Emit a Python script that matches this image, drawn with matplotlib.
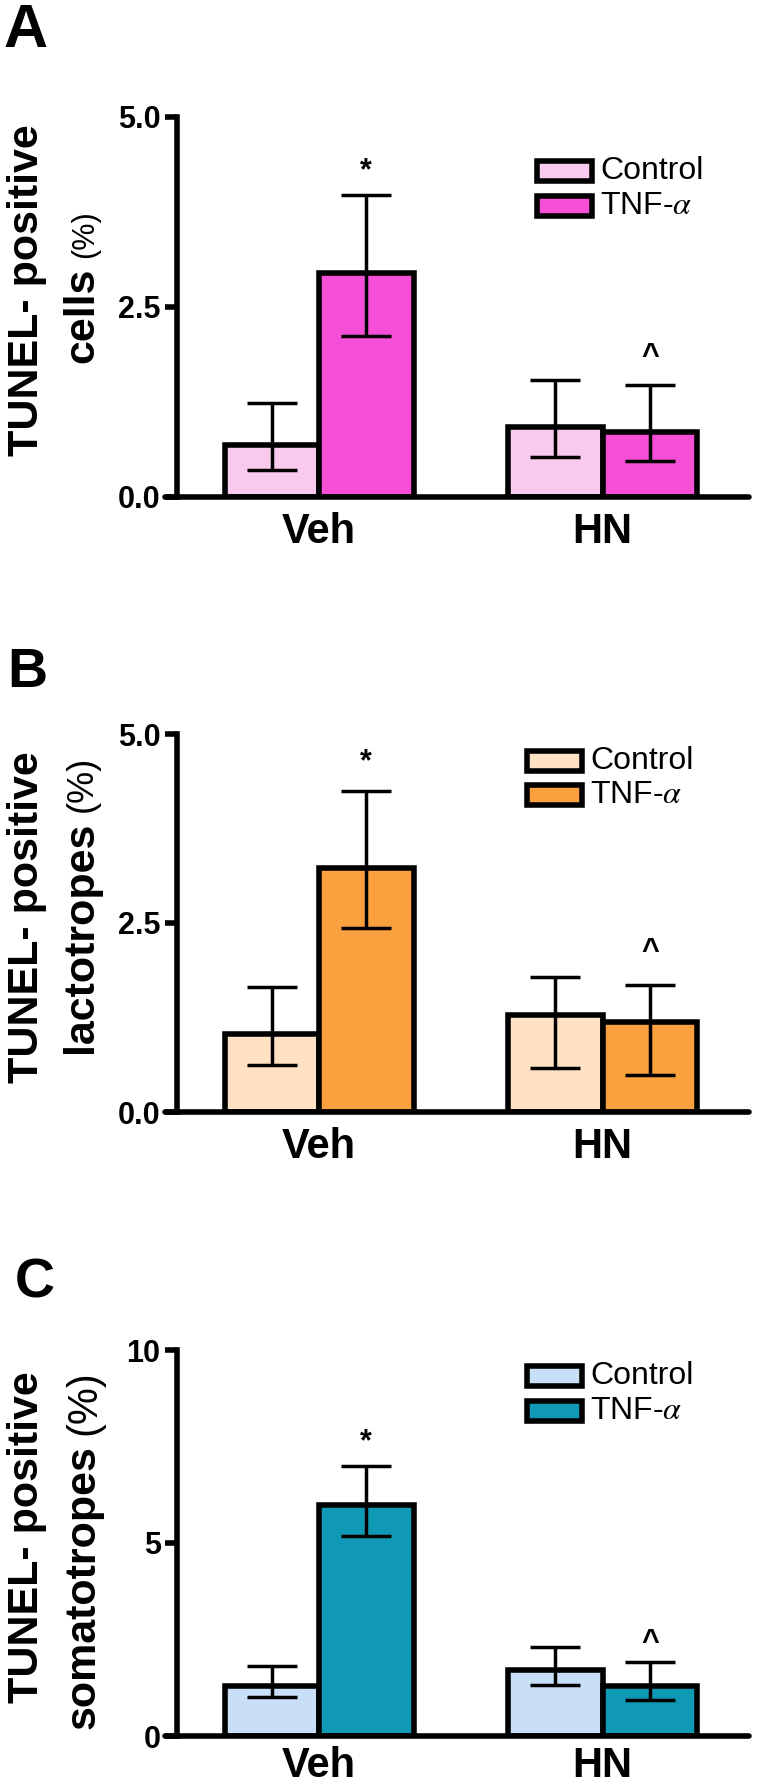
import matplotlib
matplotlib.use("Agg")
import matplotlib.pyplot as plt
import numpy as np
from matplotlib.patches import Rectangle

plt.rcParams['font.family'] = ['Liberation Sans', 'DejaVu Sans']
plt.rcParams['mathtext.fontset'] = 'stix'

# ---- data ----
groups = ['Veh', 'HN']
series = ['Control', r'TNF-$\alpha$']

# A: TUNEL-positive cells (%)
a_ctrl = [0.68, 0.92]
a_ctrl_lo = [0.36, 0.53]
a_ctrl_hi = [1.24, 1.54]
a_tnf = [2.95, 0.86]
a_tnf_lo = [2.12, 0.47]
a_tnf_hi = [3.97, 1.47]
a_sig = ['*', '^']
a_sig_y = [4.28, 1.84]

# B: TUNEL-positive lactotropes (%)
b_ctrl = [1.03, 1.28]
b_ctrl_lo = [0.62, 0.58]
b_ctrl_hi = [1.65, 1.79]
b_tnf = [3.23, 1.19]
b_tnf_lo = [2.44, 0.49]
b_tnf_hi = [4.25, 1.68]
b_sig = ['*', '^']
b_sig_y = [4.62, 2.12]

# C: TUNEL-positive somatotropes (%)
c_ctrl = [1.30, 1.71]
c_ctrl_lo = [1.01, 1.32]
c_ctrl_hi = [1.81, 2.31]
c_tnf = [5.98, 1.30]
c_tnf_lo = [5.18, 0.93]
c_tnf_hi = [7.00, 1.92]
c_sig = ['*', '^']
c_sig_y = [7.62, 2.41]

W, H = 760, 1789
fig = plt.figure(figsize=(W / 100, H / 100), dpi=100)


def fx(px):
    return px / W


def fy(py):
    return 1 - py / H


def draw_panel(top, bottom, ctrl, ctrl_lo, ctrl_hi, tnf, tnf_lo, tnf_hi,
               sig, sig_y, colors, yticks, yticklabels, xpad=11):
    ax = fig.add_axes([fx(165), fy(bottom), fx(584), (bottom - top) / H])
    x = np.array([1.5, 4.5])
    ctrl, tnf = np.array(ctrl), np.array(tnf)
    ax.bar(x - 0.5, ctrl, width=1.0, color=colors[0], edgecolor='black',
           linewidth=4, zorder=2)
    ax.bar(x + 0.5, tnf, width=1.0, color=colors[1], edgecolor='black',
           linewidth=4, zorder=2)
    ax.errorbar(x - 0.5, ctrl, yerr=[ctrl - np.array(ctrl_lo), np.array(ctrl_hi) - ctrl],
                fmt='none', ecolor='black', elinewidth=2.5, capsize=18, capthick=2.5, zorder=3)
    ax.errorbar(x + 0.5, tnf, yerr=[tnf - np.array(tnf_lo), np.array(tnf_hi) - tnf],
                fmt='none', ecolor='black', elinewidth=2.5, capsize=18, capthick=2.5, zorder=3)
    for xi, s, yi in zip(x + 0.5, sig, sig_y):
        ax.text(xi, yi, s, ha='center', va='center', fontsize=22, fontweight='bold')

    ax.set_xlim(-0.13, 6.05)
    ax.set_ylim(yticks[0], yticks[-1])
    for s in ['top', 'right']:
        ax.spines[s].set_visible(False)
    ax.spines['left'].set_position(('data', 0))
    ax.spines['left'].set_linewidth(4)
    ax.spines['bottom'].set_linewidth(4)
    ax.spines['left'].set_capstyle('projecting')
    ax.spines['bottom'].set_capstyle('round')

    ax.set_yticks(yticks)
    ax.set_yticklabels(yticklabels, fontsize=22, fontweight='bold')
    ax.tick_params(axis='y', length=9, width=4, pad=3)
    ax.set_xticks(x)
    ax.set_xticklabels(groups, fontsize=30, fontweight='bold')
    ax.tick_params(axis='x', length=0, pad=xpad)
    ax.patch.set_visible(False)
    return ax


def draw_legend(x0, y_ctrl, y_tnf, colors):
    for yc, c, lab in zip([y_ctrl, y_tnf], colors, series):
        fig.add_artist(Rectangle((fx(x0), fy(yc + 10)), 55 / W, 20 / H,
                                 transform=fig.transFigure, facecolor=c,
                                 edgecolor='black', linewidth=4))
        fig.text(fx(x0 + 63), fy(yc), lab, fontsize=23, va='center', ha='left')


def ylabel(x1, yc1, x2, y_split, word, pct_size):
    fig.text(fx(x1), fy(yc1), 'TUNEL- positive', rotation=90, rotation_mode='anchor',
             ha='center', va='baseline', fontsize=31, fontweight='bold')
    fig.text(fx(x2), fy(y_split + 5), word, rotation=90, rotation_mode='anchor',
             ha='right', va='baseline', fontsize=31, fontweight='bold')
    fig.text(fx(x2), fy(y_split - 5), '(%)', rotation=90, rotation_mode='anchor',
             ha='left', va='baseline', fontsize=pct_size)


# Panel A
draw_panel(117, 497, a_ctrl, a_ctrl_lo, a_ctrl_hi, a_tnf, a_tnf_lo, a_tnf_hi,
           a_sig, a_sig_y, ['#F9C9EE', '#F44FD6'], [0, 2.5, 5.0], ['0.0', '2.5', '5.0'])
draw_legend(537, 171, 206, ['#F9C9EE', '#F44FD6'])
ylabel(38, 290, 93, 263, 'cells', 22)
fig.text(fx(3), fy(47), 'A', fontsize=44, fontweight='bold', ha='left', va='baseline')

# Panel B
draw_panel(734, 1112, b_ctrl, b_ctrl_lo, b_ctrl_hi, b_tnf, b_tnf_lo, b_tnf_hi,
           b_sig, b_sig_y, ['#FFE1C4', '#FBA03F'], [0, 2.5, 5.0], ['0.0', '2.5', '5.0'])
draw_legend(527, 761, 795, ['#FFE1C4', '#FBA03F'])
ylabel(38, 917, 92, 817, 'lactotropes', 26)
fig.text(fx(7), fy(687), 'B', fontsize=40, fontweight='bold', ha='left', va='baseline')

# Panel C
draw_panel(1350, 1736, c_ctrl, c_ctrl_lo, c_ctrl_hi, c_tnf, c_tnf_lo, c_tnf_hi,
           c_sig, c_sig_y, ['#C9DEF7', '#1099B4'], [0, 5, 10], ['0', '5', '10'], xpad=7)
draw_legend(527, 1376, 1411, ['#C9DEF7', '#1099B4'])
ylabel(38, 1537, 95, 1440, 'somatotropes', 30)
fig.text(fx(15), fy(1297), 'C', fontsize=40, fontweight='bold', ha='left', va='baseline')

fig.savefig('out.png', dpi=100)
